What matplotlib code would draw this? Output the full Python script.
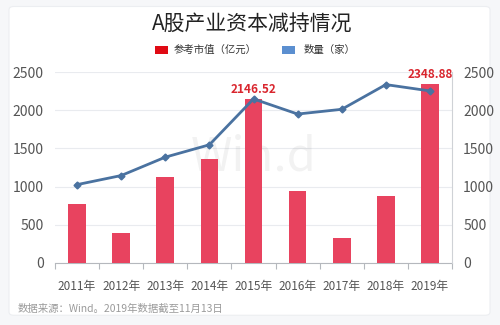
import matplotlib.pyplot as plt
import numpy as np
from matplotlib.patches import FancyBboxPatch, Rectangle

plt.rcParams['font.family'] = ['Noto Sans CJK SC', 'DejaVu Sans']

years = ['2011年', '2012年', '2013年', '2014年', '2015年',
         '2016年', '2017年', '2018年', '2019年']
market_value = [778, 388, 1132, 1364, 2146.52, 938, 333, 882, 2348.88]
firm_count = [1026, 1145, 1386, 1548, 2149, 1951, 2013, 2337, 2254]
labelled = {4: '2146.52', 8: '2348.88'}

bar_color = '#e8435f'
line_color = '#4a72a0'
grid_color = '#e9ebef'
tick_color = '#555555'

fig = plt.figure(figsize=(5, 3.25), dpi=100, facecolor='#f6f7f9')
card = FancyBboxPatch((0.018, 0.03), 0.962, 0.95, boxstyle='round,pad=0,rounding_size=0.01',
                      transform=fig.transFigure, facecolor='white', edgecolor='#eceef1',
                      linewidth=0.8, zorder=-5)
fig.patches.append(card)

ax = fig.add_axes([0.11, 0.191, 0.794, 0.587])
ax.set_facecolor('none')
x = np.arange(len(years))

ax.bar(x, market_value, width=0.4, color=bar_color, zorder=3)
ax2 = ax.twinx()
ax2.plot(x, firm_count, color=line_color, linewidth=2, marker='D', markersize=3.5,
         zorder=4)

for ax_ in (ax, ax2):
    ax_.set_ylim(0, 2500)
    ax_.set_yticks(range(0, 2501, 500))
    ax_.set_xlim(-0.5, len(years) - 0.5)
    for s in ax_.spines.values():
        s.set_visible(False)
    ax_.tick_params(axis='y', length=0, labelsize=10, labelcolor=tick_color, pad=8)

ax.yaxis.grid(True, color=grid_color, linewidth=0.8, zorder=0)
ax.set_axisbelow(True)
ax.spines['bottom'].set_visible(True)
ax.spines['bottom'].set_color('#b5b8bd')
ax2.spines['right'].set_visible(True)
ax2.spines['right'].set_color('#cfd2d6')

# category ticks sit on the boundaries, labels in the middle
ax.set_xticks(np.arange(-0.5, len(years), 1))
ax.set_xticklabels([])
ax.set_xticks(x, minor=True)
ax.set_xticklabels(years, minor=True)
ax.tick_params(axis='x', which='major', length=4, color='#b5b8bd')
ax.tick_params(axis='x', which='minor', length=0, labelsize=8.5,
               labelcolor=tick_color, pad=12)

for i, txt in labelled.items():
    ax.text(i, market_value[i] + 40, txt, ha='center', va='bottom', fontsize=8.5,
            fontweight='bold', color='#d9262e', zorder=5)

# watermark
ax.text(4.0, 1380, 'Win.d', ha='center', va='center', fontsize=34,
        color='#000000', alpha=0.05, zorder=2)

fig.text(0.505, 0.925, 'A股产业资本减持情况', ha='center', va='center',
         fontsize=15, color='#222222')
fig.patches.append(Rectangle((0.31, 0.835), 0.025, 0.022, transform=fig.transFigure,
                             facecolor='#e00a14', edgecolor='none'))
fig.text(0.348, 0.846, '参考市值（亿元）', ha='left', va='center', fontsize=7.5,
         color='#333333')
fig.patches.append(Rectangle((0.564, 0.835), 0.025, 0.022, transform=fig.transFigure,
                             facecolor='#5b8fd0', edgecolor='none'))
fig.text(0.608, 0.846, '数量（家）', ha='left', va='center', fontsize=7.5,
         color='#333333')

fig.text(0.036, 0.05, '数据来源：Wind。2019年数据截至11月13日', ha='left',
         va='center', fontsize=7.5, color='#9a9a9a')

fig.savefig('out.png', dpi=100, facecolor=fig.get_facecolor())
